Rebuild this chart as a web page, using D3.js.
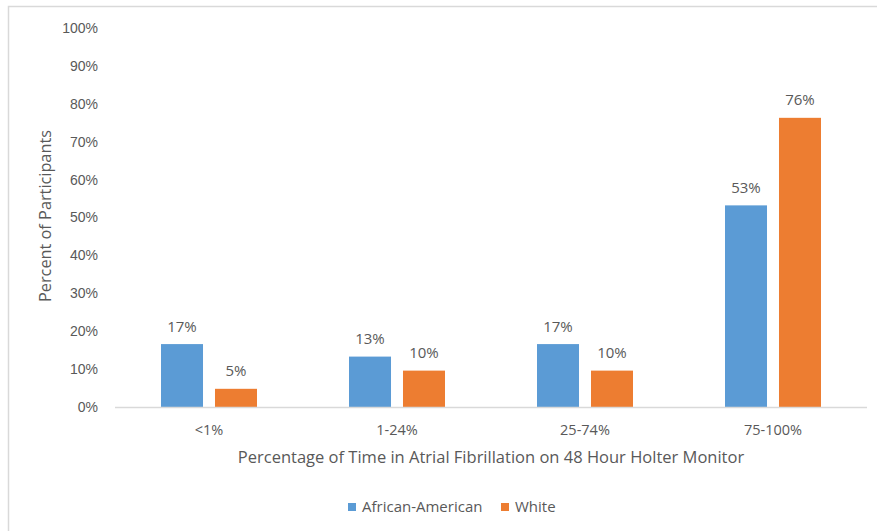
<!DOCTYPE html>
<html>
<head>
<meta charset="utf-8">
<script src="https://cdn.jsdelivr.net/npm/d3@7"></script>
<style>
  body { margin: 0; background: #fff; }
  svg { display: block; font-family: "Open Sans", "Noto Sans", sans-serif; }
</style>
</head>
<body>
<svg width="877" height="531"></svg>
<script>
(function(){
	'use strict';

	const categories = ['<1%', '1-24%', '25-74%', '75-100%'];
	const series = ['African-American', 'White'];
	const africanAmerican = [16.6, 13.3, 16.6, 53.2];
	const white = [4.8, 9.6, 9.6, 76.3];
	const valueLabels = [['17%', '13%', '17%', '53%'], ['5%', '10%', '10%', '76%']];
	const yTicks = [0, 10, 20, 30, 40, 50, 60, 70, 80, 90, 100];
	const colors = ['#5B9BD5', '#ED7D31'];

	const svg = d3.select('svg');
	const textColor = '#595959';

	// outer frame
	svg.append('rect')
		.attr('x', 8.5)
		.attr('y', 6.5)
		.attr('width', 900)
		.attr('height', 600)
		.attr('fill', 'none')
		.attr('stroke', '#D9D9D9')
		.attr('stroke-width', 1.5);

	const left = 115, right = 867, top = 28, bottom = 407;

	const x0 = d3.scaleBand()
		.domain(categories)
		.range([left, right]);

	const x1 = d3.scaleBand()
		.domain(series)
		.range([0, x0.bandwidth()])
		.paddingInner(0.222)
		.paddingOuter(0.852);

	const y = d3.scaleLinear()
		.domain([0, 100])
		.range([bottom, top]);

	// y tick labels
	const yAxis = svg.append('g')
		.attr('transform', `translate(${left}, 0)`)
		.call(d3.axisLeft(y).tickValues(yTicks).tickFormat(d => d + '%').tickSize(0).tickPadding(17));
	yAxis.select('.domain').remove();
	yAxis.selectAll('text')
		.attr('fill', textColor)
		.style('font-size', '14px');

	// bars
	const data = [africanAmerican, white];
	const groups = svg.append('g')
		.selectAll('g')
		.data(categories)
		.join('g')
			.attr('transform', d => `translate(${x0(d)}, 0)`);

	const rows = (d, i) => series.map((s, j) => ({ s, j, v: data[j][i], label: valueLabels[j][i] }));

	groups.selectAll('rect')
		.data(rows)
		.join('rect')
			.attr('x', d => x1(d.s))
			.attr('y', d => y(d.v))
			.attr('width', x1.bandwidth())
			.attr('height', d => y(0) - y(d.v))
			.attr('fill', d => colors[d.j]);

	groups.selectAll('text')
		.data(rows)
		.join('text')
			.attr('x', d => x1(d.s) + x1.bandwidth() / 2)
			.attr('y', d => y(d.v) - 12.5)
			.attr('text-anchor', 'middle')
			.attr('fill', textColor)
			.style('font-size', '15px')
			.text(d => d.label);

	// x axis line
	svg.append('line')
		.attr('x1', left)
		.attr('x2', right)
		.attr('y1', bottom + 0.5)
		.attr('y2', bottom + 0.5)
		.attr('stroke', '#D9D9D9')
		.attr('stroke-width', 1.5);

	// category labels
	svg.append('g')
		.selectAll('text')
		.data(categories)
		.join('text')
			.attr('x', d => x0(d) + x0.bandwidth() / 2)
			.attr('y', 435)
			.attr('text-anchor', 'middle')
			.attr('fill', textColor)
			.style('font-size', '14.5px')
			.text(d => d);

	// axis titles
	svg.append('text')
		.attr('x', (left + right) / 2)
		.attr('y', 463)
		.attr('text-anchor', 'middle')
		.attr('fill', textColor)
		.style('font-size', '16.5px')
		.text('Percentage of Time in Atrial Fibrillation on 48 Hour Holter Monitor');

	svg.append('text')
		.attr('transform', 'translate(51, 216) rotate(-90)')
		.attr('text-anchor', 'middle')
		.attr('fill', textColor)
		.style('font-size', '16.3px')
		.text('Percent of Participants');

	// legend
	const legendX = [348, 501];
	const legend = svg.append('g')
		.selectAll('g')
		.data(series)
		.join('g')
			.attr('transform', (d, i) => `translate(${legendX[i]}, 503)`);
	legend.append('rect')
		.attr('width', 8)
		.attr('height', 8)
		.attr('fill', (d, i) => colors[i]);
	legend.append('text')
		.attr('x', 14)
		.attr('y', 9)
		.attr('fill', textColor)
		.style('font-size', '15px')
		.text(d => d);
})();
</script>
</body>
</html>
